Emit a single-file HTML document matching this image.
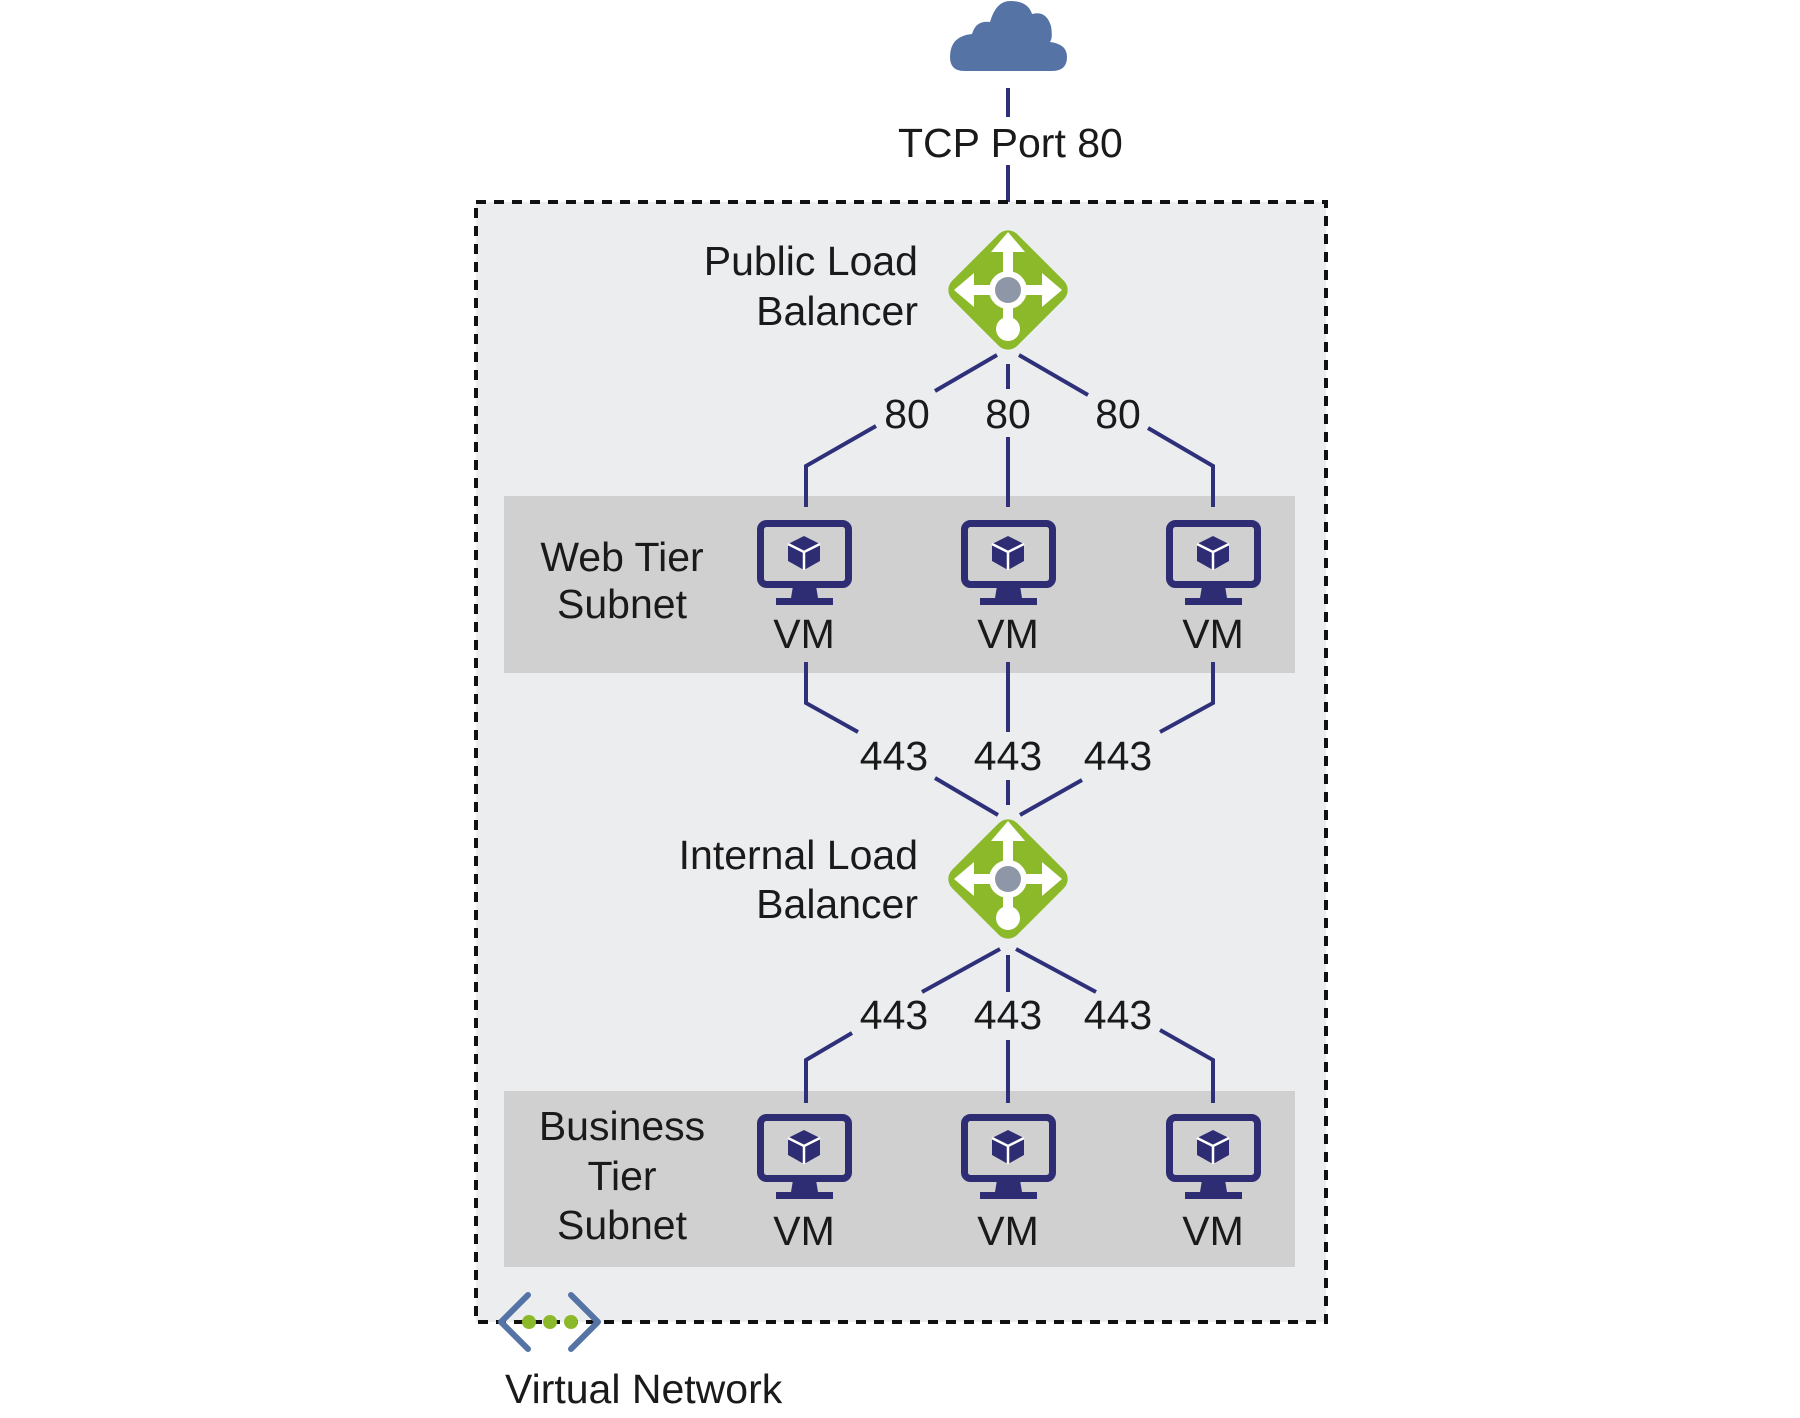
<!DOCTYPE html>
<html><head><meta charset="utf-8"><style>
html,body{margin:0;padding:0;background:#fff}
svg{display:block}
text{font-family:"Liberation Sans",Arial,sans-serif;font-size:41px;fill:#1a1a1a}
</style></head><body>
<svg width="1800" height="1418" viewBox="0 0 1800 1418" xmlns="http://www.w3.org/2000/svg">
<defs>
<g id="vm">
<rect x="3.5" y="3.5" width="88" height="61" rx="6" fill="none" stroke="#2e2d73" stroke-width="7"/>
<polygon points="36,66 59,66 61,78 34,78" fill="#2e2d73"/>
<rect x="19" y="78" width="57" height="7" fill="#2e2d73"/>
<polygon points="47,16 63,24 63,41 47,50 31,41 31,24" fill="#2e2d73"/>
<polyline points="31,24 47,32 63,24" fill="none" stroke="#fff" stroke-width="2.5"/>
<line x1="47" y1="32" x2="47" y2="50" stroke="#fff" stroke-width="2.5"/>
</g>
<g id="lb">
<rect x="-46" y="-46" width="92" height="92" rx="13" fill="#8cb92a" transform="rotate(45)"/>
<line x1="0" y1="-40" x2="0" y2="40" stroke="#fff" stroke-width="10"/>
<line x1="-40" y1="0" x2="40" y2="0" stroke="#fff" stroke-width="10"/>
<polygon points="0,-58 -17,-38 17,-38" fill="#fff"/>
<polygon points="-54,0 -34,-17 -34,17" fill="#fff"/>
<polygon points="54,0 34,-17 34,17" fill="#fff"/>
<circle cx="0" cy="0" r="19" fill="#fff"/>
<circle cx="0" cy="0" r="13" fill="#8d97a8"/>
<circle cx="0" cy="39" r="12" fill="#fff"/>
</g>
</defs>

<path d="M964 71 Q950 71 950 57 Q950 36 972 34 Q976 20 990 22 Q996 1 1010 1 Q1028 1 1032 14 Q1046 10 1051 26 Q1053 38 1050 42 Q1067 44 1067 57 Q1067 71 1052 71 Z" fill="#5573a5"/>

<line x1="1008" y1="88" x2="1008" y2="117" stroke="#2e3079" stroke-width="4"/>
<text x="898" y="157">TCP Port 80</text>
<line x1="1008" y1="165" x2="1008" y2="213" stroke="#2e3079" stroke-width="4"/>

<rect x="476" y="202" width="850" height="1120" fill="#ecedef"/>
<rect x="476" y="202" width="850" height="1120" fill="none" stroke="#111" stroke-width="4" stroke-dasharray="10,8"/>

<rect x="504" y="496" width="791" height="177" fill="#d0d0d0"/>
<rect x="504" y="1091" width="791" height="176" fill="#d0d0d0"/>

<use href="#lb" x="1008" y="290"/>
<use href="#lb" x="1008" y="879"/>

<text x="918" y="275" text-anchor="end">Public Load</text>
<text x="918" y="325" text-anchor="end">Balancer</text>
<text x="918" y="869" text-anchor="end">Internal Load</text>
<text x="918" y="918" text-anchor="end">Balancer</text>

<g stroke="#2e3079" stroke-width="4" fill="none">
<line x1="997" y1="355" x2="935" y2="391"/>
<polyline points="876,426 806,466 806,507"/>
<line x1="1008" y1="364" x2="1008" y2="389"/>
<line x1="1008" y1="437" x2="1008" y2="507"/>
<line x1="1019" y1="355" x2="1088" y2="395"/>
<polyline points="1148,428 1213,466 1213,507"/>
<polyline points="806,662 806,703 858,732"/>
<line x1="935" y1="778" x2="998" y2="815"/>
<line x1="1008" y1="662" x2="1008" y2="732"/>
<line x1="1008" y1="780" x2="1008" y2="805"/>
<polyline points="1213,662 1213,703 1160,732"/>
<line x1="1082" y1="780" x2="1020" y2="815"/>
<line x1="1000" y1="949" x2="922" y2="992"/>
<polyline points="852,1033 806,1060 806,1103"/>
<line x1="1008" y1="955" x2="1008" y2="992"/>
<line x1="1008" y1="1040" x2="1008" y2="1103"/>
<line x1="1016" y1="949" x2="1096" y2="992"/>
<polyline points="1160,1030 1213,1060 1213,1103"/>
</g>

<g text-anchor="middle">
<text x="907" y="428">80</text><text x="1008" y="428">80</text><text x="1118" y="428">80</text>
<text x="894" y="770">443</text><text x="1008" y="770">443</text><text x="1118" y="770">443</text>
<text x="894" y="1029">443</text><text x="1008" y="1029">443</text><text x="1118" y="1029">443</text>
<text x="622" y="571">Web Tier</text><text x="622" y="618">Subnet</text>
<text x="622" y="1140">Business</text><text x="622" y="1190">Tier</text><text x="622" y="1239">Subnet</text>
<text x="804" y="648">VM</text><text x="1008" y="648">VM</text><text x="1213" y="648">VM</text>
<text x="804" y="1245">VM</text><text x="1008" y="1245">VM</text><text x="1213" y="1245">VM</text>
</g>

<use href="#vm" x="757" y="520"/><use href="#vm" x="961" y="520"/><use href="#vm" x="1166" y="520"/>
<use href="#vm" x="757" y="1114"/><use href="#vm" x="961" y="1114"/><use href="#vm" x="1166" y="1114"/>

<polyline points="528,1295 501,1322 528,1349" fill="none" stroke="#5573a5" stroke-width="6" stroke-linecap="round" stroke-linejoin="round"/>
<polyline points="571,1295 598,1322 571,1349" fill="none" stroke="#5573a5" stroke-width="6" stroke-linecap="round" stroke-linejoin="round"/>
<circle cx="529" cy="1322" r="7" fill="#8cb92a"/>
<circle cx="550" cy="1322" r="7" fill="#8cb92a"/>
<circle cx="571" cy="1322" r="7" fill="#8cb92a"/>
<text x="505" y="1403">Virtual Network</text>
</svg>
</body></html>
